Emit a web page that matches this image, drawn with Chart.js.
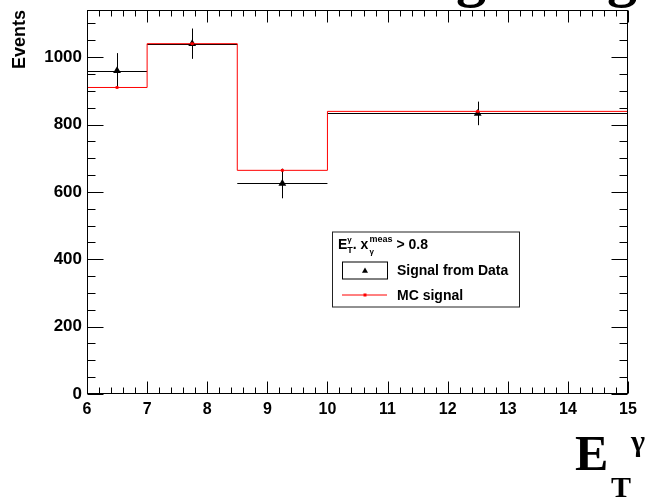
<!DOCTYPE html>
<html lang="en">
<head>
  <meta charset="UTF-8">
  <title>Signal from Data vs MC signal</title>
  <script src="https://cdn.jsdelivr.net/npm/chart.js@4.4.1/dist/chart.umd.min.js"></script>
  <style>
    body { margin: 0; background: #fff; }
    #wrap { width: 645px; height: 497px; position: relative; }
  </style>
</head>

<body>
  <div id="wrap"><canvas id="chart"></canvas></div>

  <script>
    // bin edges in E_T (GeV) and contents
    const binEdges = [6, 7, 8.5, 10, 15];
    const dataVals = [960, 1040, 625, 833];
    const dataErr = [52, 45, 44, 35];
    const mcVals = [910, 1040, 664, 839];
    const xTickVals = [6, 7, 8, 9, 10, 11, 12, 13, 14, 15];
    const yTickVals = [0, 200, 400, 600, 800, 1000];

    const centers = dataVals.map((v, i) => (binEdges[i] + binEdges[i + 1]) / 2);
    const dataPts = dataVals.map((v, i) => ({ x: centers[i], y: v }));
    const mcPts = mcVals.map((v, i) => ({ x: centers[i], y: v }));
    // step line: each bin's lower edge, plus the last upper edge
    const mcStep = mcVals.map((v, i) => ({ x: binEdges[i], y: v }));
    mcStep.push({ x: binEdges[binEdges.length - 1], y: mcVals[mcVals.length - 1] });

    const SANS = "'Liberation Sans', Arial, sans-serif";
    const SERIF = "'Liberation Serif', 'Times New Roman', serif";

    function drawTri(ctx, x, y, r) {
      ctx.beginPath();
      ctx.moveTo(x, y - r);
      ctx.lineTo(x + r * 0.866, y + r * 0.5);
      ctx.lineTo(x - r * 0.866, y + r * 0.5);
      ctx.closePath();
      ctx.fill();
    }

    // error bars under the markers
    const errorBars = {
      id: 'errorBars',
      beforeDatasetsDraw(chart) {
        const { ctx, scales: { x, y } } = chart;
        ctx.save();
        ctx.strokeStyle = '#000';
        ctx.lineWidth = 1;
        dataVals.forEach((v, i) => {
          const py = Math.round(y.getPixelForValue(v)) + 0.5;
          const px = Math.round(x.getPixelForValue(centers[i])) + 0.5;
          ctx.beginPath();
          ctx.moveTo(x.getPixelForValue(binEdges[i]), py);
          ctx.lineTo(x.getPixelForValue(binEdges[i + 1]), py);
          ctx.moveTo(px, y.getPixelForValue(v + dataErr[i]));
          ctx.lineTo(px, y.getPixelForValue(v - dataErr[i]));
          ctx.stroke();
        });
        ctx.restore();
      }
    };

    // ROOT style frame with ticks on all four sides, legend, titles
    const rootFrame = {
      id: 'rootFrame',
      afterDraw(chart) {
        const { ctx, chartArea: ca, scales: { x, y } } = chart;
        ctx.save();
        ctx.strokeStyle = '#000';
        ctx.lineWidth = 1;
        const L = Math.round(ca.left) + 0.5, R = Math.round(ca.right) - 0.5;
        const T = Math.round(ca.top) + 0.5, B = Math.round(ca.bottom) - 0.5;
        ctx.strokeRect(L, T, R - L, B - T);

        ctx.beginPath();
        // x ticks: major every 1, minor every 0.2
        for (let k = 0; k <= Math.round((x.max - x.min) / 0.2); k++) {
          const v = x.min + k * 0.2;
          const major = k % 5 === 0;
          const px = Math.round(x.getPixelForValue(v)) + 0.5;
          const len = major ? 12 : 6;
          ctx.moveTo(px, B); ctx.lineTo(px, B - len);
          ctx.moveTo(px, T); ctx.lineTo(px, T + len);
        }
        // y ticks: major every 200, minor every 50
        for (let v = 0; v <= y.max; v += 50) {
          const major = v % 200 === 0;
          const py = Math.round(y.getPixelForValue(v)) + 0.5;
          const len = major ? 16 : 8;
          ctx.moveTo(L, py); ctx.lineTo(L + len, py);
          ctx.moveTo(R, py); ctx.lineTo(R - len, py);
        }
        ctx.stroke();

        // legend box
        const lx = ca.left + 245, ly = ca.top + 221.5;
        ctx.fillStyle = '#fff';
        ctx.fillRect(lx, ly, 187, 75);
        ctx.strokeStyle = '#222';
        ctx.strokeRect(lx + 0.5, ly + 0.5, 187, 75);

        ctx.fillStyle = '#000';
        ctx.textBaseline = 'alphabetic';
        ctx.textAlign = 'left';
        const seg = (txt, px, py, size) => {
          ctx.font = 'bold ' + size + 'px ' + SANS;
          ctx.fillText(txt, px, py);
          return ctx.measureText(txt).width;
        };
        let hx = lx + 6, hb = ly + 17;
        hx += seg('E', hx, hb, 14);
        seg('γ', hx, hb - 7, 8);
        hx += seg('T', hx, hb + 4, 9);
        hx += seg('. x', hx, hb, 14) + 1;
        seg('γ', hx, hb + 5, 8);
        hx += seg('meas', hx, hb - 7, 9) + 4;
        seg('> 0.8', hx, hb, 14);

        // entry 1: box with triangle
        ctx.strokeStyle = '#000';
        ctx.strokeRect(lx + 10.5, ly + 30.5, 45, 17);
        drawTri(ctx, lx + 33, ly + 39.5, 3.5);
        seg('Signal from Data', lx + 65, ly + 43.5, 14);
        // entry 2: red line with dot
        ctx.strokeStyle = '#ff0000';
        ctx.beginPath();
        ctx.moveTo(lx + 10, ly + 63.5); ctx.lineTo(lx + 55, ly + 63.5);
        ctx.stroke();
        ctx.fillStyle = '#ff0000';
        ctx.fillRect(lx + 31.5, ly + 62, 3, 3);
        ctx.fillStyle = '#000';
        seg('MC signal', lx + 65, ly + 68.5, 14);

        // x axis title E_T^gamma
        ctx.font = 'bold 50px ' + SERIF;
        ctx.fillText('E', 575, 470);
        ctx.font = 'bold 30px ' + SERIF;
        ctx.fillText('T', 611, 497);
        ctx.fillText('γ', 631, 451);

        // clipped title above the frame
        ctx.font = 'bold 60px ' + SERIF;
        ctx.fillText('g', 456, -5);
        ctx.fillText('g', 607, -5);
        ctx.restore();
      }
    };

    const ctx = document.getElementById('chart').getContext('2d');

    new Chart(ctx, {
      type: 'line',
      data: {
        datasets: [
          {
            label: 'Signal from Data',
            type: 'scatter',
            data: dataPts,
            pointStyle: 'triangle',
            pointRadius: 4.5,
            backgroundColor: '#000',
            borderColor: '#000',
            borderWidth: 0,
            order: 3
          },
          {
            label: 'MC signal',
            data: mcStep,
            stepped: 'before',
            borderColor: '#ff0000',
            borderWidth: 1,
            pointRadius: 0,
            fill: false,
            order: 2
          },
          {
            label: 'MC points',
            type: 'scatter',
            data: mcPts,
            pointStyle: 'rect',
            pointRadius: 2,
            backgroundColor: '#ff0000',
            borderColor: '#ff0000',
            borderWidth: 0,
            order: 1
          }
        ]
      },
      options: {
        responsive: true,
        maintainAspectRatio: false,
        animation: false,
        layout: { padding: { top: 10, right: 17, left: 0, bottom: 0 } },
        plugins: {
          legend: { display: false },
          tooltip: { enabled: false }
        },
        scales: {
          x: {
            type: 'linear',
            min: 6,
            max: 15,
            grid: { display: false, drawTicks: false },
            border: { display: false },
            afterBuildTicks: (s) => { s.ticks = xTickVals.map(v => ({ value: v })); },
            afterFit: (s) => { s.height = 103; s.paddingLeft = 0; s.paddingRight = 0; },
            ticks: {
              padding: 6,
              color: '#000',
              font: { family: SANS, size: 16, weight: 'bold' },
              callback: (v) => String(v)
            }
          },
          y: {
            min: 0,
            max: 1140,
            grid: { display: false, drawTicks: false },
            border: { display: false },
            afterBuildTicks: (s) => { s.ticks = yTickVals.map(v => ({ value: v })); },
            afterFit: (s) => { s.width = 87; s.paddingTop = 0; s.paddingBottom = 0; },
            title: {
              display: true,
              text: 'Events',
              align: 'end',
              color: '#000',
              padding: { top: 9, bottom: 0 },
              font: { family: SANS, size: 18, weight: 'bold' }
            },
            ticks: {
              padding: 5,
              color: '#000',
              font: { family: SANS, size: 17, weight: 'bold' },
              callback: (v) => String(v)
            }
          }
        }
      },
      plugins: [errorBars, rootFrame]
    });
  </script>
</body>
</html>
